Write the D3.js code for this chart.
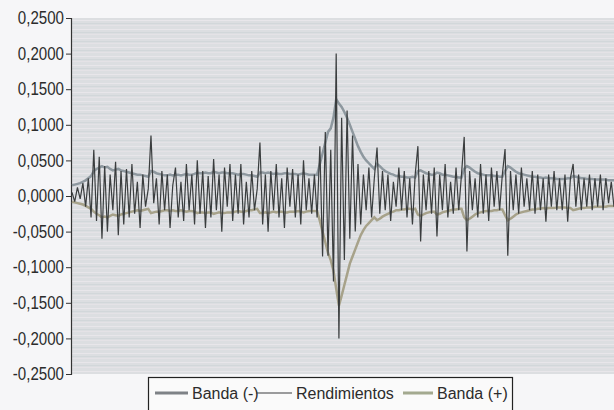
<!DOCTYPE html>
<html>
<head>
<meta charset="utf-8">
<script src="https://cdn.jsdelivr.net/npm/d3@7"></script>
<style>
  html, body { margin: 0; padding: 0; background: #f6f6f8; }
  svg { display: block; font-family: "Liberation Sans", Arial, sans-serif; }
</style>
</head>
<body>
<svg id="chart"></svg>
<script>
// y axis ticks
const yTicks = [0.25, 0.2, 0.15, 0.1, 0.05, 0, -0.05, -0.1, -0.15, -0.2, -0.25];

// daily returns (Rendimientos)
const returns = [
  0.005, -0.008, 0.012, -0.004, 0.018, -0.015, 0.025, -0.03, 0.065, -0.035,
  0.055, -0.06, 0.042, -0.05, 0.03, -0.02, 0.048, -0.055, 0.035, -0.04,
  0.038, -0.03, 0.045, -0.025, 0.02, -0.045, 0.03, -0.015, 0.01, 0.085,
  -0.01, 0.025, -0.04, 0.035, -0.02, 0.03, -0.045, 0.015, 0.04, -0.03,
  0.02, -0.035, 0.045, -0.02, 0.03, -0.04, 0.05, -0.025, 0.035, -0.045,
  0.028, -0.03, 0.052, -0.02, 0.03, -0.05, 0.04, -0.015, 0.045, -0.035,
  0.03, -0.025, 0.045, -0.04, 0.02, -0.03, 0.035, -0.02, 0.01, 0.075,
  -0.04, 0.03, -0.05, 0.035, -0.02, 0.045, -0.03, 0.025, -0.045, 0.04,
  -0.015, 0.038, -0.03, 0.03, -0.04, 0.05, -0.02, 0.025, -0.025, 0.03,
  -0.03, 0.07, -0.085, 0.09, -0.084, 0.065, -0.12, 0.2, -0.2, 0.11,
  -0.09, 0.12, -0.06, 0.085, -0.05, 0.045, -0.04, 0.03, -0.02, 0.04,
  -0.03, 0.025, 0.068, -0.025, 0.035, -0.02, 0.03, -0.035, 0.02, -0.015,
  0.04, -0.02, 0.035, -0.03, 0.025, -0.04, 0.03, 0.07, -0.064, 0.03,
  -0.02, 0.035, -0.025, 0.04, -0.057, 0.03, -0.02, 0.045, -0.03, 0.02,
  -0.025, 0.04, -0.02, 0.03, 0.083, -0.078, 0.035, -0.02, 0.025, -0.03,
  0.045, -0.025, 0.03, -0.035, 0.04, -0.015, 0.035, -0.02, 0.03, 0.066,
  -0.084, 0.035, -0.02, 0.03, -0.025, 0.04, -0.015, 0.025, -0.02, 0.035,
  -0.025, 0.03, -0.02, 0.025, -0.036, 0.03, -0.015, 0.035, -0.02, 0.025,
  -0.02, 0.03, -0.036, 0.025, 0.045, -0.015, 0.03, -0.02, 0.025, -0.015,
  0.03, -0.02, 0.025, -0.015, 0.03, -0.02, 0.025, -0.01, 0.02, -0.015
];

// upper band
const bandUpper = [
  0.015, 0.016, 0.017, 0.018, 0.02, 0.022, 0.025, 0.028, 0.035, 0.038,
  0.04, 0.042, 0.04, 0.041, 0.038, 0.036, 0.037, 0.038, 0.036, 0.035,
  0.034, 0.033, 0.032, 0.031, 0.03, 0.03, 0.029, 0.028, 0.027, 0.035,
  0.034, 0.032, 0.031, 0.03, 0.029, 0.029, 0.03, 0.029, 0.03, 0.03,
  0.029, 0.03, 0.031, 0.03, 0.03, 0.031, 0.033, 0.032, 0.032, 0.033,
  0.032, 0.032, 0.034, 0.033, 0.032, 0.033, 0.033, 0.032, 0.032, 0.032,
  0.031, 0.03, 0.031, 0.031, 0.03, 0.029, 0.029, 0.028, 0.027, 0.033,
  0.033, 0.032, 0.033, 0.032, 0.031, 0.032, 0.031, 0.031, 0.032, 0.032,
  0.031, 0.031, 0.031, 0.03, 0.031, 0.032, 0.031, 0.03, 0.03, 0.03,
  0.03, 0.045, 0.06, 0.075, 0.09, 0.095, 0.11, 0.136, 0.13, 0.125,
  0.118, 0.11, 0.1, 0.09, 0.08, 0.07, 0.062, 0.055, 0.05, 0.046,
  0.042, 0.038, 0.045, 0.042, 0.038, 0.035, 0.033, 0.031, 0.03, 0.028,
  0.028, 0.027, 0.027, 0.026, 0.026, 0.027, 0.026, 0.035, 0.036, 0.034,
  0.032, 0.031, 0.03, 0.03, 0.033, 0.032, 0.03, 0.03, 0.029, 0.028,
  0.027, 0.027, 0.026, 0.026, 0.038, 0.042, 0.04, 0.037, 0.034, 0.032,
  0.031, 0.03, 0.029, 0.029, 0.029, 0.028, 0.028, 0.027, 0.027, 0.035,
  0.042, 0.04, 0.037, 0.034, 0.032, 0.031, 0.03, 0.029, 0.028, 0.027,
  0.027, 0.026, 0.026, 0.025, 0.026, 0.025, 0.025, 0.025, 0.024, 0.024,
  0.024, 0.024, 0.025, 0.025, 0.028, 0.027, 0.026, 0.025, 0.025, 0.024,
  0.024, 0.024, 0.023, 0.023, 0.023, 0.023, 0.023, 0.022, 0.022, 0.022
];

// lower band
const bandLower = [
  -0.008, -0.009, -0.01, -0.011, -0.012, -0.014, -0.016, -0.018, -0.022, -0.025,
  -0.027, -0.03, -0.029, -0.03, -0.028, -0.026, -0.027, -0.028, -0.026, -0.025,
  -0.024, -0.023, -0.022, -0.021, -0.02, -0.021, -0.02, -0.019, -0.018, -0.024,
  -0.023, -0.022, -0.022, -0.021, -0.02, -0.02, -0.021, -0.02, -0.021, -0.021,
  -0.02, -0.021, -0.022, -0.021, -0.021, -0.022, -0.024, -0.023, -0.023, -0.024,
  -0.023, -0.023, -0.025, -0.024, -0.023, -0.024, -0.024, -0.023, -0.023, -0.023,
  -0.022, -0.021, -0.022, -0.022, -0.021, -0.02, -0.02, -0.019, -0.018, -0.024,
  -0.024, -0.023, -0.024, -0.023, -0.022, -0.023, -0.022, -0.022, -0.023, -0.023,
  -0.022, -0.022, -0.022, -0.021, -0.022, -0.023, -0.022, -0.021, -0.021, -0.021,
  -0.021, -0.035, -0.05, -0.065, -0.08, -0.09, -0.105, -0.13, -0.154, -0.14,
  -0.125, -0.11, -0.095, -0.085, -0.075, -0.065, -0.055, -0.048, -0.042, -0.038,
  -0.034, -0.03, -0.034, -0.032, -0.029, -0.027, -0.025, -0.023, -0.022, -0.02,
  -0.02, -0.019, -0.019, -0.018, -0.018, -0.019, -0.018, -0.026, -0.028, -0.026,
  -0.024, -0.023, -0.022, -0.022, -0.026, -0.025, -0.023, -0.022, -0.021, -0.02,
  -0.019, -0.019, -0.018, -0.018, -0.03, -0.034, -0.032, -0.029, -0.026, -0.024,
  -0.023, -0.022, -0.021, -0.021, -0.021, -0.02, -0.02, -0.019, -0.019, -0.027,
  -0.034, -0.032, -0.029, -0.026, -0.024, -0.023, -0.022, -0.021, -0.02, -0.019,
  -0.019, -0.018, -0.018, -0.017, -0.018, -0.017, -0.017, -0.017, -0.016, -0.016,
  -0.016, -0.016, -0.017, -0.017, -0.02, -0.019, -0.018, -0.017, -0.017, -0.016,
  -0.016, -0.016, -0.015, -0.015, -0.015, -0.015, -0.015, -0.014, -0.014, -0.014
];

// legend entries
const legendItems = [
  { label: "Banda (-)", color: "#7e8286", width: 3 },
  { label: "Rendimientos", color: "#3a3d3e", width: 1.2 },
  { label: "Banda (+)", color: "#a3a98f", width: 3 }
];

const width = 614;
const height = 410;
const margin = { top: 18, right: 0, bottom: 36, left: 71 };
const squeeze = 0.84; // the scanned tick text is narrower than the font

const svg = d3.select("#chart")
  .attr("width", width)
  .attr("height", height);

const x = d3.scaleLinear()
  .domain([0, returns.length - 1])
  .range([margin.left + 1, width]);

const y = d3.scaleLinear()
  .domain([-0.25, 0.25])
  .range([height - margin.bottom, margin.top]);

// faint scan-like stripes for the plot background
const defs = svg.append("defs");
const pat = defs.append("pattern")
  .attr("id", "stripes")
  .attr("patternUnits", "userSpaceOnUse")
  .attr("width", 8).attr("height", 9);
pat.append("rect").attr("width", 8).attr("height", 9).attr("fill", "#dcdee1");
pat.append("rect").attr("y", 2).attr("width", 8).attr("height", 1).attr("fill", "#e8e6ea");
pat.append("rect").attr("y", 5).attr("width", 8).attr("height", 1).attr("fill", "#d2d7da");
pat.append("rect").attr("y", 7).attr("width", 8).attr("height", 1).attr("fill", "#e4e2e6");

svg.append("rect")
  .attr("x", margin.left)
  .attr("y", y(0.25))
  .attr("width", width - margin.left)
  .attr("height", y(-0.25) - y(0.25))
  .attr("fill", "url(#stripes)");

// y axis
const yAxis = d3.axisLeft(y)
  .tickValues(yTicks)
  .tickSize(5)
  .tickPadding(2)
  .tickFormat(d => d3.format(".4f")(d).replace(".", ",").replace("−", "-"));

const gy = svg.append("g")
  .attr("transform", `translate(${margin.left},0)`)
  .call(yAxis);
gy.select(".domain").attr("stroke", "#333").attr("stroke-width", 1.2);
gy.selectAll(".tick line").attr("stroke", "#333");
gy.selectAll(".tick text")
  .attr("fill", "#2c2c2c")
  .attr("font-size", 18)
  .attr("x", -7 / squeeze)
  .attr("transform", `scale(${squeeze},1)`)
  .attr("font-family", "'Liberation Sans', Arial, sans-serif");

// series lines
const line = d3.line()
  .x((d, i) => x(i))
  .y(d => y(d));

svg.append("path")
  .datum(bandUpper)
  .attr("fill", "none")
  .attr("stroke", "#8e989f")
  .attr("stroke-width", 2.5)
  .attr("d", line);

svg.append("path")
  .datum(bandLower)
  .attr("fill", "none")
  .attr("stroke", "#a7a28a")
  .attr("stroke-width", 2.5)
  .attr("d", line);

svg.append("path")
  .datum(returns)
  .attr("fill", "none")
  .attr("stroke", "#3a3d3e")
  .attr("stroke-width", 1.2)
  .attr("d", line);

// legend box at the bottom
const legend = svg.append("g").attr("transform", "translate(148,377)");
legend.append("rect")
  .attr("x", 0.5).attr("y", 0.5)
  .attr("width", 364).attr("height", 36)
  .attr("fill", "#fafafa")
  .attr("stroke", "#222")
  .attr("stroke-width", 1.2);

// swatch start and text start, relative to the box
const swatchX = [7, 108, 255];
const swatchW = [33, 36, 30];
legendItems.forEach((item, i) => {
  const g = legend.append("g").attr("transform", `translate(${swatchX[i]},16)`);
  g.append("line")
    .attr("x1", 0).attr("x2", swatchW[i])
    .attr("stroke", item.color)
    .attr("stroke-width", item.width);
  g.append("text")
    .attr("x", swatchW[i] + 4).attr("y", 5.5)
    .attr("font-size", 16)
    .attr("fill", "#2c2c2c")
    .text(item.label);
});
</script>
</body>
</html>
